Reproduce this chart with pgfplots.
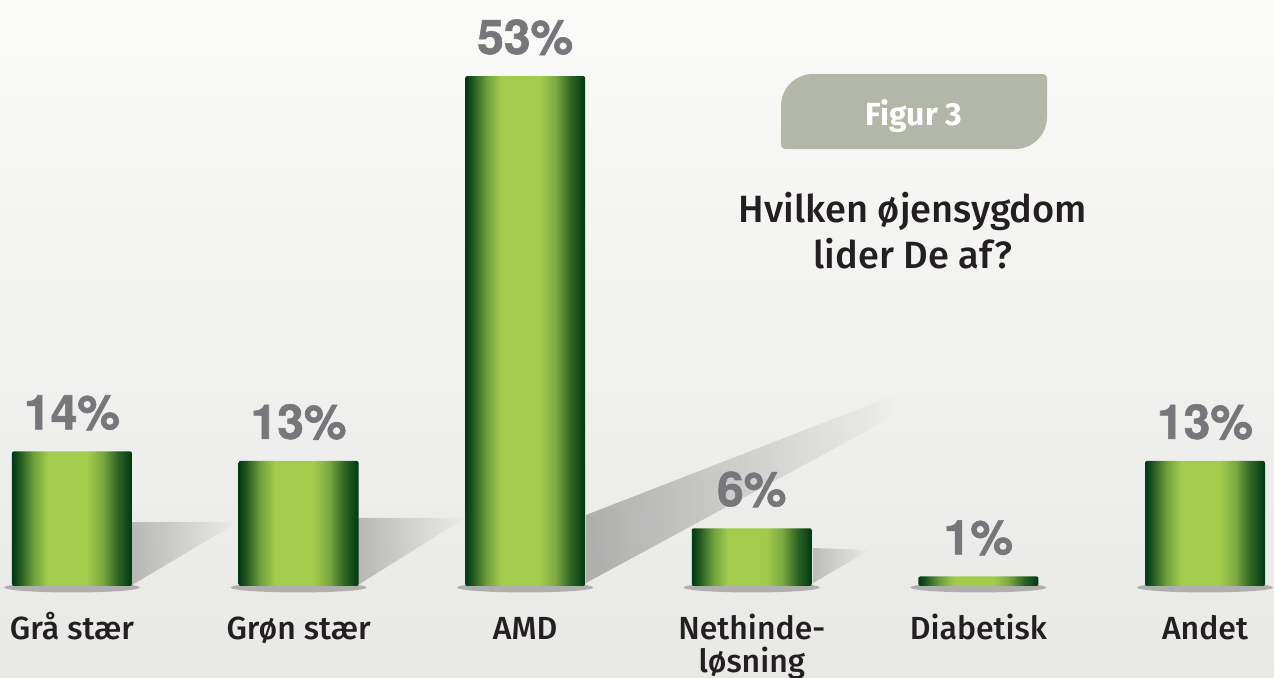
\documentclass[border=0pt]{standalone}
\usepackage{fontspec}
\usepackage{pgfplots}
\pgfplotsset{compat=1.18}
\usetikzlibrary{fadings}
\setmainfont{Fira Sans}[UprightFont=* Medium, BoldFont=* Bold]
\newfontfamily\numfont{TeX Gyre Heros}[BoldFeatures={FakeBold=1.2}]
\definecolor{bgtop}{RGB}{250,250,249}
\definecolor{bgbot}{RGB}{232,233,230}
\definecolor{valgray}{RGB}{118,119,123}
\definecolor{labblack}{RGB}{35,31,32}
\definecolor{figgray}{RGB}{179,183,168}
\definecolor{dkg}{RGB}{0,56,20}
\definecolor{g1}{RGB}{25,80,28}
\definecolor{g2}{RGB}{110,160,60}
\definecolor{lg}{RGB}{163,204,77}
\definecolor{g3}{RGB}{125,170,65}
\definecolor{g4}{RGB}{45,100,35}
\pgfdeclarehorizontalshading{barshade}{100bp}{color(0bp)=(dkg); color(25bp)=(dkg); color(27.5bp)=(g1); color(34bp)=(g2); color(40bp)=(lg); color(56bp)=(lg); color(62.5bp)=(g3); color(69bp)=(g4); color(75bp)=(dkg); color(100bp)=(dkg)}
\begin{document}
\begin{tikzpicture}
\useasboundingbox (0,0) rectangle (637pt,338.5pt);
\begin{axis}[
  at={(0,0)}, anchor=south west,
  scale only axis, width=637pt, height=338.5pt,
  xmin=-0.3177, xmax=5.3045, ymin=-9.46, ymax=60.91,
  clip=false,
  axis line style={draw=none},
  axis background/.style={shade, top color=bgtop, bottom color=bgbot},
  major tick length=0pt,
  ytick=\empty,
  xtick={0,...,5},
  xticklabels={Grå stær, Grøn stær, AMD, {\begin{tabular}[t]{@{}c@{}}Nethinde-\\løsning\end{tabular}}, Diabetisk, Andet},
  xticklabel style={font=\fontsize{16}{14}\selectfont, text=labblack, anchor=base, yshift=19pt},
  ybar, bar width=60pt, bar shift=0pt,
  /pgf/number format/assume math mode=true,
  nodes near coords={\pgfmathprintnumber{\pgfplotspointmeta}\%},
  every node near coord/.append style={font=\numfont\bfseries\fontsize{24}{26}\selectfont, text=valgray, anchor=base, yshift=11pt},
  bars/.style={draw=none, shading=barshade, rounded corners=1pt},
]
% decorative diagonal shadows
\fill[black, opacity=0.22, path fading=east] (axis cs:0.265,0.1) -- (axis cs:0.265,6.65) -- (axis cs:0.733,6.65) -- cycle;
\fill[black, opacity=0.22, path fading=east] (axis cs:1.262,0.1) -- (axis cs:1.262,7.07) -- (axis cs:1.734,7.07) -- cycle;
\fill[black, opacity=0.26, path fading=east] (axis cs:2.268,0.31) -- (axis cs:2.268,7.38) -- (axis cs:3.654,20.06) -- (axis cs:3.654,17.98) -- cycle;
\fill[black, opacity=0.2, path fading=east] (axis cs:3.27,0.3) -- (axis cs:3.27,3.95) -- (axis cs:3.52,3.74) -- cycle;
\pgfplotsinvokeforeach{0,...,5}{
  \fill[black, opacity=0.25] (axis cs:#1,-0.15) ellipse [x radius=34pt, y radius=2.5pt];
}
\addplot[bars] coordinates {(0,14)};
\addplot[bars] coordinates {(1,13)};
\addplot[bars] coordinates {(2,53)};
\addplot[bars] coordinates {(3,6)};
\addplot[bars] coordinates {(4,1)};
\addplot[bars] coordinates {(5,13)};
\end{axis}
% Figur box
\fill[figgray] (406.5pt,301.5pt) -- (521.5pt,301.5pt) arc[start angle=90,end angle=0,radius=2pt] -- (523.5pt,280pt) arc[start angle=0,end angle=-90,radius=16pt] -- (392.5pt,264pt) arc[start angle=270,end angle=180,radius=2pt] -- (390.5pt,285.5pt) arc[start angle=180,end angle=90,radius=16pt] -- cycle;
\node[anchor=base, text=white, font=\bfseries\fontsize{16}{18}\selectfont] at (457pt,276pt) {Figur 3};
\node[anchor=base, text=labblack, font=\fontsize{19}{22}\selectfont] at (456.5pt,227.5pt) {Hvilken øjensygdom};
\node[anchor=base, text=labblack, font=\fontsize{19}{22}\selectfont] at (456.5pt,204.5pt) {lider De af?};
\end{tikzpicture}
\end{document}
